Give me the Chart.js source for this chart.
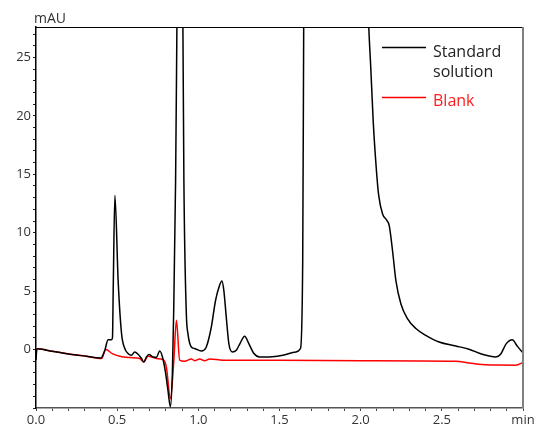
<!DOCTYPE html>
<html>
<head>
<meta charset="utf-8">
<script src="https://cdn.jsdelivr.net/npm/chart.js@4.4.1/dist/chart.umd.min.js"></script>
<style>
  html, body { margin: 0; padding: 0; background: #fff; }
  #wrap { width: 542px; height: 432px; }
</style>
</head>
<body>
<div id="wrap"><canvas id="chrom" width="542" height="432"></canvas></div>
<script>
// Chromatogram traces (time in min, signal in mAU)
const stdTime = [
    0, 0.005, 0.01, 0.066, 0.21, 0.31, 0.40, 0.424, 0.444, 0.465,
    0.471, 0.476, 0.486, 0.506, 0.527, 0.547, 0.567, 0.588, 0.608, 0.629,
    0.65, 0.664, 0.68, 0.696, 0.721, 0.742, 0.762, 0.779, 0.799, 0.813,
    0.828, 0.840, 0.848, 0.860, 0.868, 0.885, 0.905, 0.911, 0.926, 0.936,
    0.957, 0.977, 1.018, 1.049, 1.08, 1.106, 1.131, 1.145, 1.157, 1.172,
    1.188, 1.209, 1.234, 1.258, 1.285, 1.311, 1.34, 1.377, 1.438, 1.52,
    1.602, 1.629, 1.643, 1.649, 1.67, 1.75, 1.85, 1.95, 2.035, 2.05,
    2.063, 2.077, 2.094, 2.11, 2.135, 2.159, 2.176, 2.196, 2.217, 2.248,
    2.288, 2.34, 2.401, 2.483, 2.586, 2.667, 2.749, 2.832, 2.862, 2.897,
    2.934, 2.964, 2.995, 3.0
];
const stdSignal = [
    -0.9, 0.05, 0.08, -0.05, -0.4, -0.57, -0.72, -0.06, 0.85, 0.85,
    1.0, 5.5, 13.2, 5.9, 1.37, 0.09, -0.34, -0.49, -0.2, -0.4,
    -0.77, -1.06, -0.63, -0.43, -0.63, -0.66, -0.12, -0.63, -2.05, -3.5,
    -4.9, -2.05, 3.1, 14.5, 27.6, 55, 27.6, 14.5, 3.1, 1.37,
    0.22, 0.09, -0.12, 0.22, 1.93, 4.2, 5.5, 5.86, 5.07, 2.79,
    0.51, -0.2, -0.06, 0.56, 1.14, 0.51, -0.29, -0.63, -0.63, -0.49,
    -0.2, 0.09, 7.6, 27.6, 80, 150, 150, 100, 34, 27.6,
    23.9, 19.6, 15.9, 13.3, 11.6, 11.1, 10.6, 8.5, 5.9, 3.9,
    2.65, 1.8, 1.22, 0.65, 0.31, 0.03, -0.4, -0.63, -0.4, 0.51,
    0.85, 0.31, -0.2, -0.25
];

const blankTime = [
    0, 0.005, 0.01, 0.066, 0.21, 0.31, 0.404, 0.43, 0.47, 0.516,
    0.58, 0.639, 0.664, 0.69, 0.742, 0.782, 0.803, 0.828, 0.848, 0.865,
    0.885, 0.916, 0.957, 0.977, 1.008, 1.039, 1.07, 1.151, 1.5, 2.0,
    2.586, 2.667, 2.749, 2.85, 2.954, 2.995, 3.0
];
const blankSignal = [
    -0.6, 0.08, 0.08, -0.05, -0.4, -0.57, -0.77, 0.0, -0.35, -0.57,
    -0.68, -0.77, -1.06, -0.57, -0.77, -0.85, -1.49, -4.19, -1.17, 2.5,
    -0.91, -1.0, -0.8, -0.95, -0.8, -0.95, -0.8, -0.91, -0.92, -0.95,
    -1.0, -1.14, -1.28, -1.33, -1.34, -1.14, -1.1
];

const seriesNames = ['Standard solution', 'Blank'];
const yLabels = [0, 5, 10, 15, 20, 25];
const xLabels = ['0.0', '0.5', '1.0', '1.5', '2.0', '2.5', 'min'];

const toPoints = (xs, ys) => xs.map((x, i) => ({ x: x, y: ys[i] }));

// Frame on the top and right, plus the unit label and the legend
const decorations = {
    id: 'decorations',
    afterDatasetsDraw(chart) {
        const { ctx, chartArea } = chart;
        ctx.save();
        ctx.strokeStyle = '#000';
        ctx.lineWidth = 1.2;
        ctx.beginPath();
        ctx.moveTo(chartArea.left, chartArea.top + 0.5);
        ctx.lineTo(chartArea.right, chartArea.top + 0.5);
        ctx.stroke();
        ctx.strokeStyle = '#808080';
        ctx.lineWidth = 2;
        ctx.beginPath();
        ctx.moveTo(chartArea.right, chartArea.top);
        ctx.lineTo(chartArea.right, chartArea.bottom);
        ctx.stroke();

        ctx.fillStyle = '#333';
        ctx.font = '14px "Open Sans"';
        ctx.textBaseline = 'alphabetic';
        ctx.fillText('mAU', 34, 23);

        // legend
        ctx.lineWidth = 1.5;
        ctx.strokeStyle = '#000';
        ctx.beginPath();
        ctx.moveTo(382, 47.5);
        ctx.lineTo(426, 47.5);
        ctx.stroke();
        ctx.strokeStyle = '#ff0000';
        ctx.beginPath();
        ctx.moveTo(382, 97.5);
        ctx.lineTo(426, 97.5);
        ctx.stroke();
        ctx.font = '16px "Open Sans"';
        ctx.fillStyle = '#222';
        const words = seriesNames[0].split(' ');
        ctx.fillText(words[0], 433, 57);
        ctx.fillText(words[1], 433, 77);
        ctx.fillStyle = '#ff1a1a';
        ctx.fillText(seriesNames[1], 433, 106);
        ctx.restore();
    }
};

new Chart(document.getElementById('chrom').getContext('2d'), {
    type: 'line',
    data: {
        datasets: [{
            label: seriesNames[0],
            data: toPoints(stdTime, stdSignal),
            borderColor: '#000',
            borderWidth: 1.5,
            pointRadius: 0,
            cubicInterpolationMode: 'monotone',
            clip: 0,
        }, {
            label: seriesNames[1],
            data: toPoints(blankTime, blankSignal),
            borderColor: '#ff0000',
            borderWidth: 1.5,
            pointRadius: 0,
            cubicInterpolationMode: 'monotone',
            clip: 0,
        }],
    },
    options: {
        responsive: false,
        animation: false,
        layout: { padding: { top: 27, right: 19, left: 0, bottom: 0 } },
        plugins: { legend: { display: false }, tooltip: { enabled: false } },
        scales: {
            x: {
                type: 'linear',
                min: 0,
                max: 3.0,
                border: { color: '#555', width: 1.5 },
                grid: { drawOnChartArea: false, tickLength: 3, tickColor: '#444' },
                ticks: {
                    stepSize: 0.1,
                    includeBounds: false,
                    autoSkip: false,
                    maxRotation: 0,
                    padding: 1,
                    color: '#333',
                    font: { family: 'Open Sans', size: 13 },
                    callback: (v) => {
                        const k = Math.round(v * 10);
                        return k % 5 === 0 ? xLabels[k / 5] : '';
                    },
                },
                afterFit: (scale) => { scale.height = 24; },
            },
            y: {
                min: -5,
                max: 27.6,
                border: { color: '#000', width: 1.5 },
                grid: { drawOnChartArea: false, tickLength: 3, tickColor: '#222' },
                ticks: {
                    stepSize: 1,
                    includeBounds: false,
                    autoSkip: false,
                    padding: 2,
                    color: '#333',
                    font: { family: 'Open Sans', size: 13 },
                    callback: (v) => (yLabels.includes(v) ? String(v) : ''),
                },
                afterFit: (scale) => { scale.width = 36; },
            },
        },
    },
    plugins: [decorations],
});
</script>
</body>
</html>
